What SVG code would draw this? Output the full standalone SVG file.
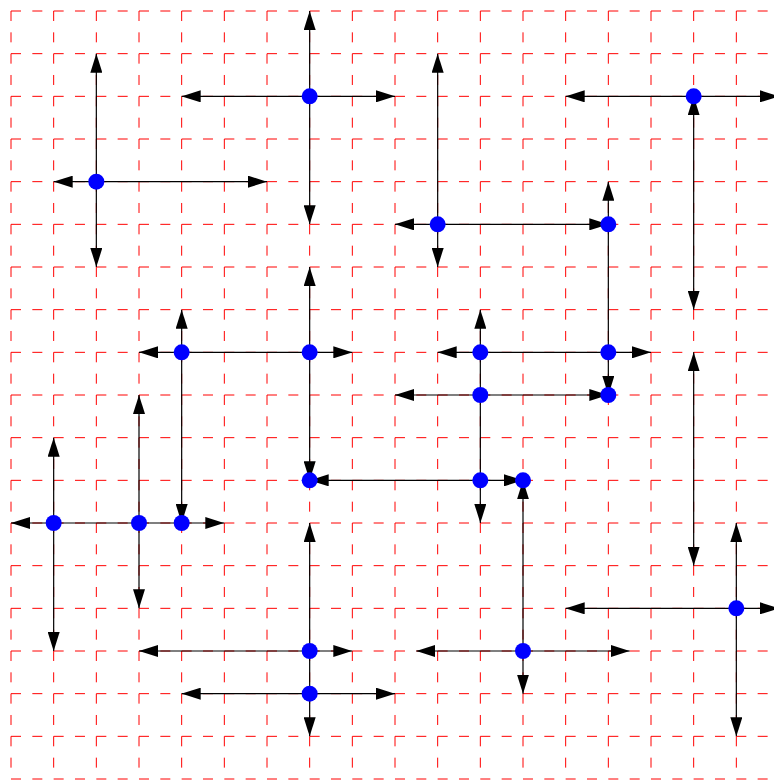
<svg xmlns="http://www.w3.org/2000/svg" width="774" height="780" viewBox="0 0 774 780">
<style>
.grid line{stroke:#ff0000;stroke-width:1;stroke-dasharray:10 11.333;fill:none}
.conn line{stroke:#000;stroke-width:1.2;marker-start:url(#ah);marker-end:url(#ah)}
.node circle{fill:#0000ff;stroke:none}
</style>
<defs>
<marker id="ah" markerUnits="userSpaceOnUse" markerWidth="19" markerHeight="12" refX="19" refY="6" orient="auto-start-reverse" viewBox="0 0 19 12">
<path d="M0,0 L19,6 L0,12 z" fill="#000"/>
</marker>
</defs>
<rect width="774" height="780" fill="#fff"/>
<g class="grid">
<line x1="11" y1="11" x2="11" y2="779"/>
<line x1="53.667" y1="11" x2="53.667" y2="779"/>
<line x1="96.333" y1="11" x2="96.333" y2="779"/>
<line x1="139" y1="11" x2="139" y2="779"/>
<line x1="181.667" y1="11" x2="181.667" y2="779"/>
<line x1="224.333" y1="11" x2="224.333" y2="779"/>
<line x1="267" y1="11" x2="267" y2="779"/>
<line x1="309.667" y1="11" x2="309.667" y2="779"/>
<line x1="352.333" y1="11" x2="352.333" y2="779"/>
<line x1="395" y1="11" x2="395" y2="779"/>
<line x1="437.667" y1="11" x2="437.667" y2="779"/>
<line x1="480.333" y1="11" x2="480.333" y2="779"/>
<line x1="523" y1="11" x2="523" y2="779"/>
<line x1="565.667" y1="11" x2="565.667" y2="779"/>
<line x1="608.333" y1="11" x2="608.333" y2="779"/>
<line x1="651" y1="11" x2="651" y2="779"/>
<line x1="693.667" y1="11" x2="693.667" y2="779"/>
<line x1="736.333" y1="11" x2="736.333" y2="779"/>
<line x1="11" y1="11" x2="779" y2="11"/>
<line x1="11" y1="53.667" x2="779" y2="53.667"/>
<line x1="11" y1="96.333" x2="779" y2="96.333"/>
<line x1="11" y1="139" x2="779" y2="139"/>
<line x1="11" y1="181.667" x2="779" y2="181.667"/>
<line x1="11" y1="224.333" x2="779" y2="224.333"/>
<line x1="11" y1="267" x2="779" y2="267"/>
<line x1="11" y1="309.667" x2="779" y2="309.667"/>
<line x1="11" y1="352.333" x2="779" y2="352.333"/>
<line x1="11" y1="395" x2="779" y2="395"/>
<line x1="11" y1="437.667" x2="779" y2="437.667"/>
<line x1="11" y1="480.333" x2="779" y2="480.333"/>
<line x1="11" y1="523" x2="779" y2="523"/>
<line x1="11" y1="565.667" x2="779" y2="565.667"/>
<line x1="11" y1="608.333" x2="779" y2="608.333"/>
<line x1="11" y1="651" x2="779" y2="651"/>
<line x1="11" y1="693.667" x2="779" y2="693.667"/>
<line x1="11" y1="736.333" x2="779" y2="736.333"/>
<line x1="11" y1="779" x2="779" y2="779"/>
</g>
<g id="connectors" class="conn">
<line x1="96.333" y1="53.667" x2="96.333" y2="267"/>
<line x1="53.667" y1="181.667" x2="267" y2="181.667"/>
<line x1="309.667" y1="11" x2="309.667" y2="224.333"/>
<line x1="181.667" y1="96.333" x2="395" y2="96.333"/>
<line x1="565.667" y1="96.333" x2="779" y2="96.333"/>
<line x1="693.667" y1="96.333" x2="693.667" y2="309.667"/>
<line x1="437.667" y1="53.667" x2="437.667" y2="267"/>
<line x1="395" y1="224.333" x2="608.333" y2="224.333"/>
<line x1="608.333" y1="181.667" x2="608.333" y2="395"/>
<line x1="139" y1="352.333" x2="352.333" y2="352.333"/>
<line x1="181.667" y1="309.667" x2="181.667" y2="523"/>
<line x1="309.667" y1="267" x2="309.667" y2="480.333"/>
<line x1="437.667" y1="352.333" x2="651" y2="352.333"/>
<line x1="480.333" y1="309.667" x2="480.333" y2="523"/>
<line x1="395" y1="395" x2="608.333" y2="395"/>
<line x1="309.667" y1="480.333" x2="523" y2="480.333"/>
<line x1="693.667" y1="352.333" x2="693.667" y2="565.667"/>
<line x1="11" y1="523" x2="224.333" y2="523"/>
<line x1="53.667" y1="437.667" x2="53.667" y2="651"/>
<line x1="139" y1="395" x2="139" y2="608.333"/>
<line x1="523" y1="480.333" x2="523" y2="693.667"/>
<line x1="416.333" y1="651" x2="629.667" y2="651"/>
<line x1="565.667" y1="608.333" x2="779" y2="608.333"/>
<line x1="736.333" y1="523" x2="736.333" y2="736.333"/>
<line x1="139" y1="651" x2="352.333" y2="651"/>
<line x1="181.667" y1="693.667" x2="395" y2="693.667"/>
<line x1="309.667" y1="523" x2="309.667" y2="736.333"/>
</g>
<g class="node">
<g id="n1"><circle cx="96.333" cy="181.667" r="8"/></g>
<g id="n2"><circle cx="309.667" cy="96.333" r="8"/></g>
<g id="n3"><circle cx="693.667" cy="96.333" r="8"/></g>
<g id="n4"><circle cx="437.667" cy="224.333" r="8"/></g>
<g id="n5"><circle cx="608.333" cy="224.333" r="8"/></g>
<g id="n6"><circle cx="181.667" cy="352.333" r="8"/></g>
<g id="n7"><circle cx="309.667" cy="352.333" r="8"/></g>
<g id="n8"><circle cx="480.333" cy="352.333" r="8"/></g>
<g id="n9"><circle cx="608.333" cy="352.333" r="8"/></g>
<g id="n10"><circle cx="480.333" cy="395" r="8"/></g>
<g id="n11"><circle cx="608.333" cy="395" r="8"/></g>
<g id="n12"><circle cx="309.667" cy="480.333" r="8"/></g>
<g id="n13"><circle cx="480.333" cy="480.333" r="8"/></g>
<g id="n14"><circle cx="523" cy="480.333" r="8"/></g>
<g id="n15"><circle cx="53.667" cy="523" r="8"/></g>
<g id="n16"><circle cx="139" cy="523" r="8"/></g>
<g id="n17"><circle cx="181.667" cy="523" r="8"/></g>
<g id="n18"><circle cx="736.333" cy="608.333" r="8"/></g>
<g id="n19"><circle cx="309.667" cy="651" r="8"/></g>
<g id="n20"><circle cx="523" cy="651" r="8"/></g>
<g id="n21"><circle cx="309.667" cy="693.667" r="8"/></g>
</g>
</svg>
